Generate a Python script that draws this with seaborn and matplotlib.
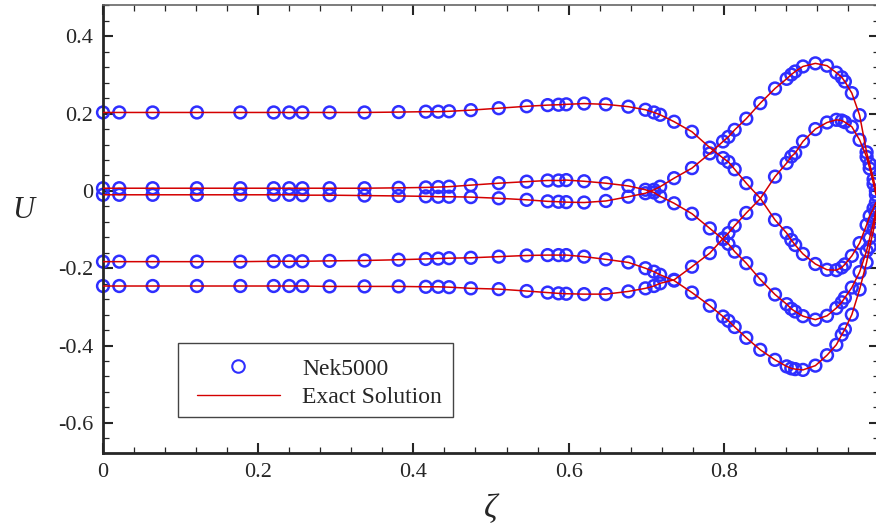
# Velocity profiles U(zeta): Nek5000 samples vs exact solution.
import matplotlib
matplotlib.use("Agg")
import matplotlib.pyplot as plt
from matplotlib.lines import Line2D
from matplotlib.patches import Rectangle
from matplotlib.ticker import MultipleLocator
import pandas as pd
import seaborn as sns

# sample locations (shared by all five phases)
zeta = [0.000, 0.021, 0.064, 0.121, 0.177, 0.220, 0.240, 0.257, 0.292, 0.337,
        0.381, 0.416, 0.432, 0.446, 0.474, 0.510, 0.546, 0.573, 0.587, 0.597,
        0.620, 0.648, 0.677, 0.699, 0.710, 0.718, 0.736, 0.759, 0.782, 0.799,
        0.806, 0.814, 0.829, 0.847, 0.866, 0.881, 0.887, 0.892, 0.902, 0.918,
        0.933, 0.945, 0.952, 0.956, 0.965, 0.975, 0.984, 0.988, 0.993, 0.996]

u_a = [0.203, 0.203, 0.203, 0.203, 0.203, 0.203, 0.203, 0.203, 0.203, 0.203,
       0.204, 0.205, 0.205, 0.206, 0.209, 0.214, 0.219, 0.222, 0.223, 0.224,
       0.226, 0.224, 0.218, 0.210, 0.203, 0.197, 0.179, 0.153, 0.112, 0.085,
       0.075, 0.056, 0.020, -0.019, -0.075, -0.109, -0.127, -0.140, -0.163, -0.189,
       -0.204, -0.205, -0.198, -0.190, -0.168, -0.135, -0.088, -0.065, -0.045, -0.030]

u_b = [0.007, 0.007, 0.007, 0.007, 0.007, 0.007, 0.007, 0.007, 0.007, 0.007,
       0.008, 0.009, 0.010, 0.011, 0.015, 0.020, 0.024, 0.027, 0.027, 0.028,
       0.025, 0.020, 0.013, 0.003, -0.004, -0.014, -0.032, -0.059, -0.097, -0.125,
       -0.137, -0.157, -0.187, -0.229, -0.268, -0.293, -0.305, -0.312, -0.324, -0.333,
       -0.323, -0.303, -0.288, -0.276, -0.250, -0.210, -0.155, -0.122, -0.080, -0.050]

u_c = [-0.010, -0.010, -0.010, -0.010, -0.010, -0.010, -0.010, -0.011, -0.011, -0.012,
       -0.013, -0.014, -0.015, -0.015, -0.016, -0.019, -0.023, -0.027, -0.028, -0.029,
       -0.030, -0.026, -0.015, -0.006, 0.003, 0.011, 0.033, 0.059, 0.097, 0.128,
       0.140, 0.158, 0.187, 0.227, 0.265, 0.290, 0.301, 0.309, 0.322, 0.330,
       0.324, 0.306, 0.294, 0.283, 0.253, 0.196, 0.100, 0.070, 0.030, 0.000]

u_d = [-0.183, -0.183, -0.183, -0.183, -0.183, -0.182, -0.182, -0.182, -0.181, -0.180,
       -0.178, -0.176, -0.175, -0.174, -0.173, -0.170, -0.167, -0.166, -0.166, -0.166,
       -0.170, -0.177, -0.185, -0.200, -0.209, -0.217, -0.232, -0.263, -0.297, -0.325,
       -0.336, -0.352, -0.380, -0.411, -0.437, -0.454, -0.459, -0.461, -0.463, -0.452,
       -0.425, -0.398, -0.372, -0.358, -0.320, -0.255, -0.185, -0.145, -0.100, -0.060]

u_e = [-0.246, -0.246, -0.246, -0.246, -0.246, -0.246, -0.246, -0.246, -0.247, -0.247,
       -0.247, -0.248, -0.248, -0.249, -0.252, -0.254, -0.259, -0.263, -0.265, -0.266,
       -0.267, -0.267, -0.260, -0.252, -0.246, -0.239, -0.230, -0.196, -0.161, -0.123,
       -0.109, -0.090, -0.057, -0.020, 0.037, 0.072, 0.089, 0.098, 0.128, 0.160,
       0.177, 0.184, 0.182, 0.178, 0.166, 0.132, 0.088, 0.058, 0.018, -0.010]

profiles = {"a": u_a, "b": u_b, "c": u_c, "d": u_d, "e": u_e}

xticks = [0, 0.2, 0.4, 0.6, 0.8]
xtick_labels = ["0", "0.2", "0.4", "0.6", "0.8"]
yticks = [-0.6, -0.4, -0.2, 0, 0.2, 0.4]
ytick_labels = ["-0.6", "-0.4", "-0.2", "0", "0.2", "0.4"]
legend_labels = ["Nek5000", "Exact Solution"]

BLUE = "#2f2fff"
RED = "#d40000"
W, H = 876, 529  # figure size in pixels

sns.set_style("ticks")
plt.rcParams["font.family"] = ["Liberation Serif", "DejaVu Serif"]
plt.rcParams["axes.unicode_minus"] = False

df = pd.concat(
    [pd.DataFrame({"zeta": zeta, "U": u, "phase": k}) for k, u in profiles.items()],
    ignore_index=True,
)

fig = plt.figure(figsize=(W / 100, H / 100), dpi=100)
ax = fig.add_axes([103 / W, 76 / H, 776 / W, 448 / H])

sns.scatterplot(data=df, x="zeta", y="U", ax=ax, marker="o", s=72,
                facecolor="none", edgecolor=BLUE, linewidth=1.8,
                legend=False, zorder=2, clip_on=False)
sns.lineplot(data=df, x="zeta", y="U", units="phase", estimator=None,
             sort=False, color=RED, linewidth=1.1, ax=ax, legend=False, zorder=3)

ax.set_xlim(0, 1.0)
ax.set_ylim(-0.678, 0.481)
ax.set_xticks(xticks, xtick_labels)
ax.set_yticks(yticks, ytick_labels)
ax.xaxis.set_minor_locator(MultipleLocator(0.04))
ax.yaxis.set_minor_locator(MultipleLocator(0.04))
ax.tick_params(which="both", direction="in", top=True, right=True)
ax.tick_params(which="major", length=7, width=1.5, labelsize=16, pad=7)
ax.tick_params(which="minor", length=4, width=0.9)
ax.set_xlabel("")
ax.set_ylabel("")
for side in ["left", "bottom", "right"]:
    ax.spines[side].set_linewidth(2.0)
ax.spines["top"].set_linewidth(1.2)
ax.spines["top"].set_color("#666666")

fig.text(23 / W, 1 - 210 / H, "U", style="italic", fontsize=22,
         ha="center", va="center")
fig.text(491 / W, 1 - 509 / H, "ζ", style="italic", fontsize=24,
         ha="center", va="center")

# legend box drawn separately so the inner padding can be wider than tall
ax.add_patch(Rectangle((178 / W, 1 - 417 / H), 275 / W, 74 / H,
                       transform=fig.transFigure, facecolor="white",
                       edgecolor="#444444", linewidth=1.0, zorder=4,
                       clip_on=False))
handles = [
    Line2D([], [], ls="none", marker="o", mfc="none", mec=BLUE, ms=9, mew=1.5),
    Line2D([], [], color=RED, lw=1.0),
]
leg = ax.legend(handles, legend_labels, loc="upper left",
                bbox_to_anchor=(197 / W, 1 - 358 / H),
                bbox_transform=fig.transFigure, borderaxespad=0, borderpad=0,
                frameon=False, fontsize=17, handlelength=3.5,
                handletextpad=0.95, labelspacing=0.3)
leg.set_zorder(5)

fig.savefig("out.png", dpi=100)
